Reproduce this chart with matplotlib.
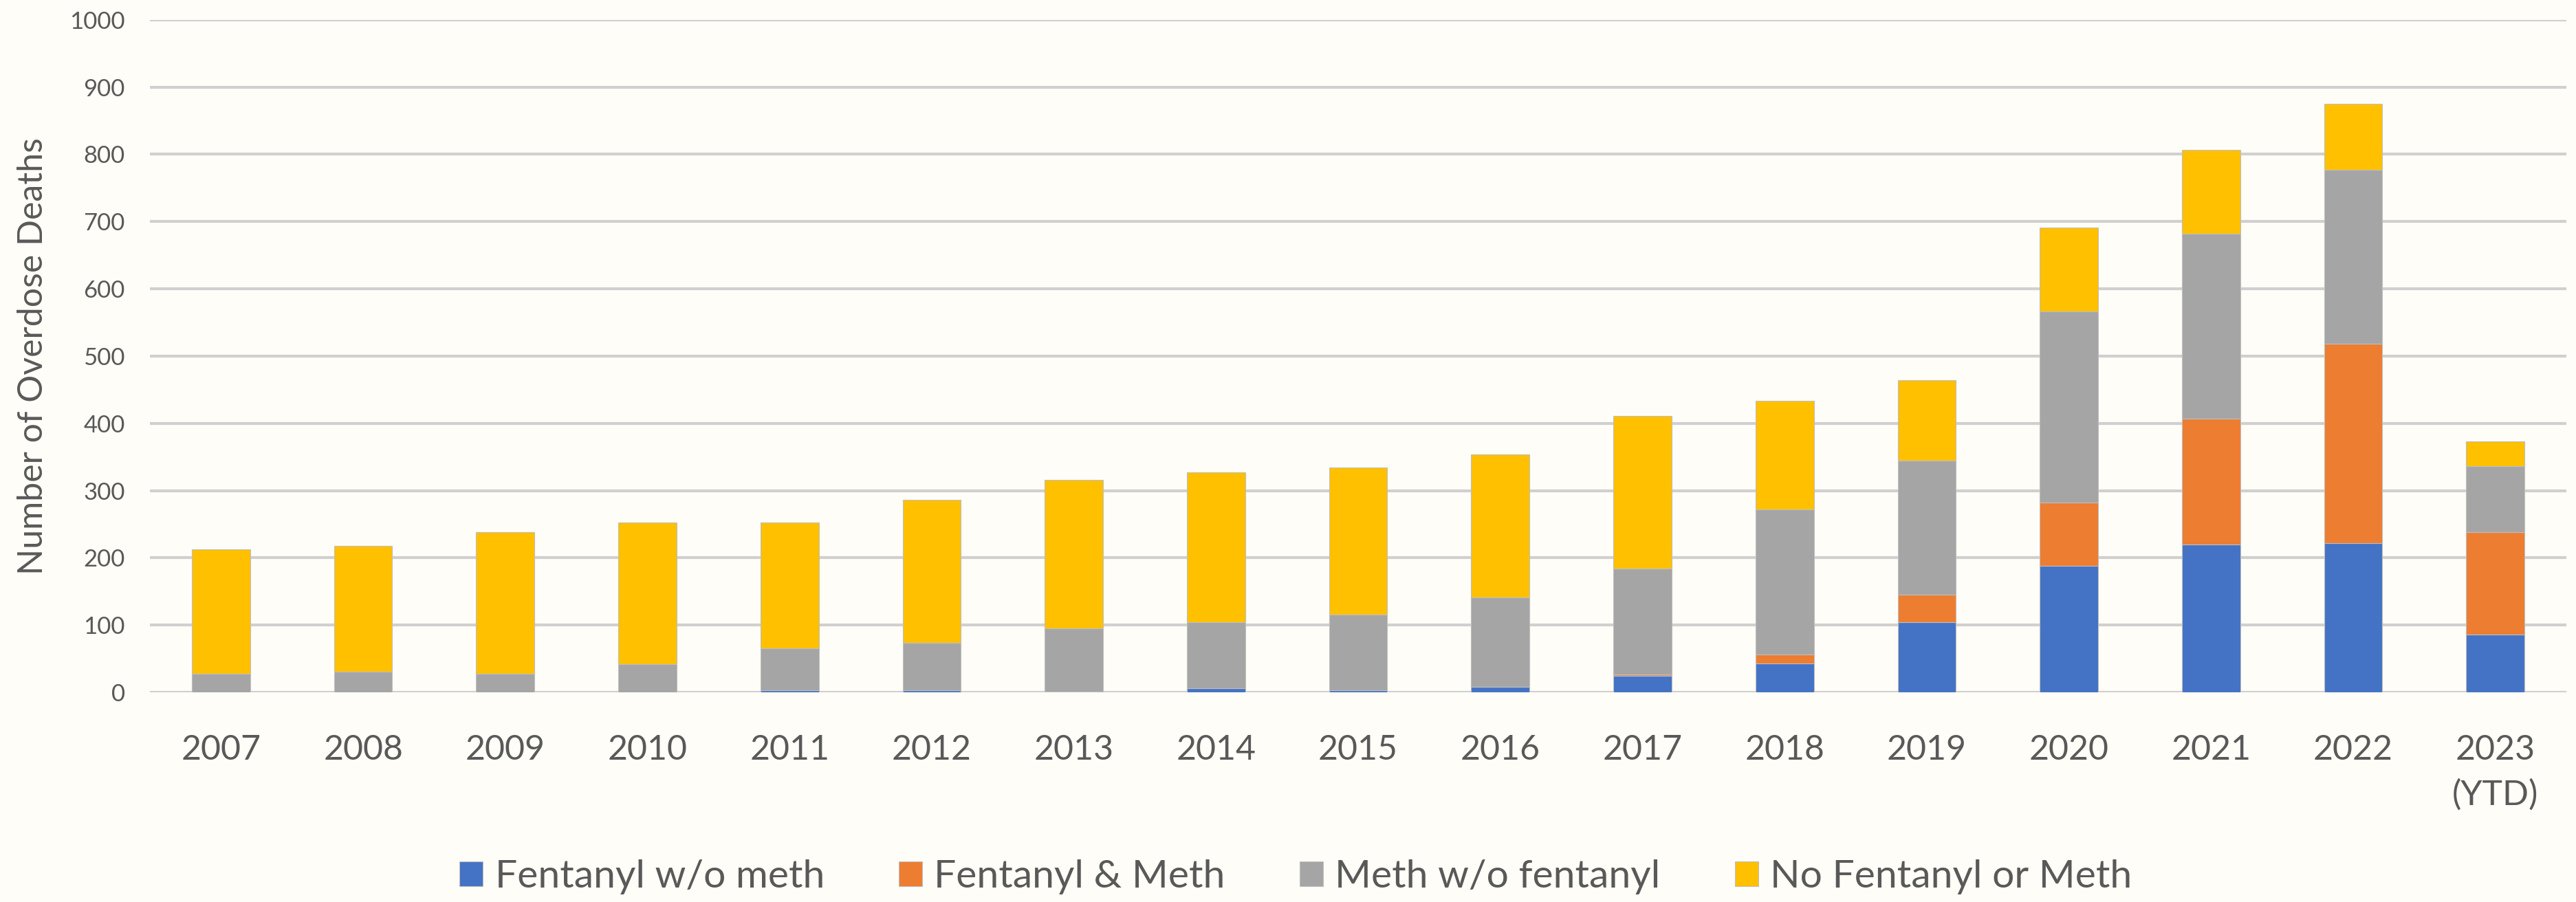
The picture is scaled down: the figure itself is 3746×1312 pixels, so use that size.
import numpy as np
import matplotlib.pyplot as plt
from matplotlib.ticker import MultipleLocator

years = ['2007', '2008', '2009', '2010', '2011', '2012', '2013', '2014', '2015',
         '2016', '2017', '2018', '2019', '2020', '2021', '2022', '2023\n(YTD)']

fent_no_meth = [0, 0, 0, 0, 3, 3, 1, 6, 3, 8, 24, 43, 104, 188, 220, 222, 86]
fent_and_meth = [0, 0, 0, 0, 0, 0, 0, 0, 0, 0, 3, 13, 41, 94, 187, 296, 152]
meth_no_fent = [28, 31, 28, 42, 62, 71, 94, 98, 113, 133, 157, 216, 200, 284, 275, 259, 98]
neither = [185, 187, 210, 210, 187, 212, 221, 223, 218, 213, 227, 161, 119, 125, 125, 98, 37]

series = [
    ('Fentanyl w/o meth', fent_no_meth, '#4472C4'),
    ('Fentanyl & Meth', fent_and_meth, '#ED7D31'),
    ('Meth w/o fentanyl', meth_no_fent, '#A5A5A5'),
    ('No Fentanyl or Meth', neither, '#FFC000'),
]

bg = '#FFFDF7'
text_col = '#595959'
plt.rcParams['font.family'] = ['Lato', 'DejaVu Sans']

fig = plt.figure(figsize=(37.46, 13.12), dpi=100, facecolor=bg)
ax = fig.add_axes([0.0582, 0.2325, 0.9381, 0.7455], facecolor=bg)

x = np.arange(len(years))
bottom = np.zeros(len(years))
for label, vals, col in series:
    vals = np.array(vals, dtype=float)
    ax.bar(x, vals, width=0.41, bottom=bottom, color=col, label=label,
           edgecolor='#BFBFBF', linewidth=0.8, zorder=3)
    bottom += vals

ax.set_xlim(-0.5, len(years) - 0.5)
ax.set_ylim(0, 1000)
ax.yaxis.set_major_locator(MultipleLocator(100))
ax.grid(axis='y', color='#D0D0D0', linewidth=3, zorder=0)
for s in ax.spines.values():
    s.set_visible(False)

ax.set_xticks(x)
ax.set_xticklabels(years, fontsize=36, color=text_col, linespacing=1.5)
ax.tick_params(axis='x', length=0, pad=44)
ax.tick_params(axis='y', length=0, pad=26, labelsize=25, labelcolor=text_col)
ax.set_ylabel('Number of Overdose Deaths', fontsize=36, color=text_col, labelpad=22)

fig.legend(loc='center', bbox_to_anchor=(0.503, 0.028), ncol=4, frameon=False,
           fontsize=41, labelcolor=text_col, handlelength=0.6, handleheight=0.6,
           handletextpad=0.3, columnspacing=1.9)

fig.savefig('out.png', dpi=100, facecolor=bg)
